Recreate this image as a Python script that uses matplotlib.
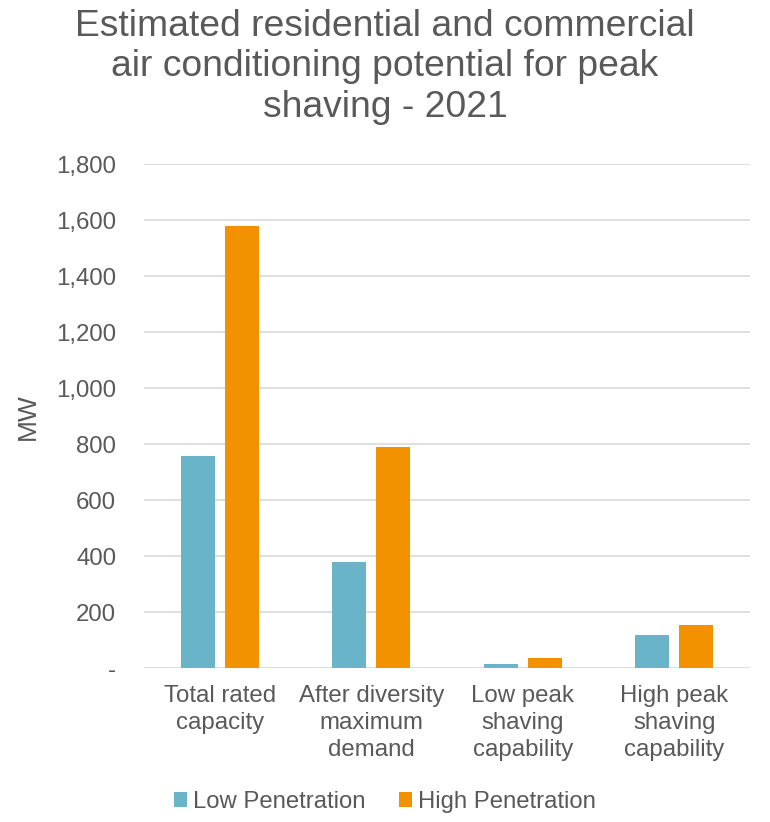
import numpy as np
import matplotlib.pyplot as plt

plt.rcParams['font.family'] = ['Liberation Sans', 'DejaVu Sans']

categories = ['Total rated\ncapacity', 'After diversity\nmaximum\ndemand',
              'Low peak\nshaving\ncapability', 'High peak\nshaving\ncapability']
low_penetration = [760, 380, 17, 120]
high_penetration = [1580, 790, 37, 156]
y_ticks = [0, 200, 400, 600, 800, 1000, 1200, 1400, 1600, 1800]

text_color = '#595959'
grid_color = '#D9D9D9'

fig = plt.figure(figsize=(7.7, 8.22), dpi=100)
ax = fig.add_axes([0.187, 0.187, 0.787, 0.613])

x = np.arange(len(categories))
w = 0.225
gap = 0.066
ax.bar(x - (w + gap) / 2, low_penetration, width=w, color='#6AB4CA', label='Low Penetration', zorder=3)
ax.bar(x + (w + gap) / 2, high_penetration, width=w, color='#F39200', label='High Penetration', zorder=3)

ax.set_xlim(-0.5, len(categories) - 0.5)
ax.set_ylim(0, 1800)
ax.set_yticks(y_ticks)
ax.set_yticklabels(['-' if v == 0 else f'{v:,}' for v in y_ticks])
ax.set_xticks(x)
ax.set_xticklabels(categories, linespacing=1.3)

ax.tick_params(axis='both', length=0, labelsize=17.3, colors=text_color)
ax.tick_params(axis='y', pad=20)
ax.tick_params(axis='x', pad=12)
ax.grid(axis='y', color=grid_color, linewidth=1.2, zorder=0)
for s in ax.spines.values():
    s.set_visible(False)

ax.set_ylabel('MW', fontsize=19, color=text_color, labelpad=12)

fig.text(0.5, 1 - 67 / 822,
         'Estimated residential and commercial\nair conditioning potential for peak\nshaving - 2021',
         fontsize=26.8, color=text_color, ha='center', va='center', linespacing=1.2)

leg = fig.legend(loc='center', bbox_to_anchor=(0.5, 1 - 802 / 822), ncol=2, frameon=False,
                 fontsize=17.2, handlelength=0.55, handleheight=0.55, handletextpad=0.25,
                 columnspacing=1.4)
for t in leg.get_texts():
    t.set_color(text_color)

fig.savefig('out.png', dpi=100)
